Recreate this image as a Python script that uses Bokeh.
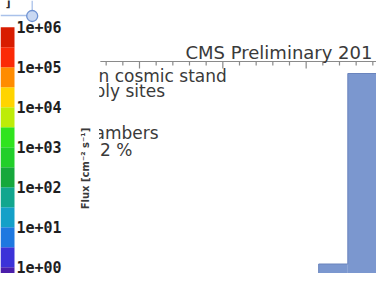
import numpy as np
from bokeh.plotting import figure
from bokeh.models import Range1d, LogScale
from bokeh.core.properties import value
from bokeh.embed import file_html
from bokeh.resources import INLINE

# ---------------- data ----------------
# colour scale (flux), block edges in log10 and their colours (bottom -> top)
cbar_edges_log10 = [-1.0, 0.0, 0.5, 1.0, 1.5, 2.0, 2.5, 3.0, 3.5, 4.0, 4.5, 5.0, 5.5, 6.0]
cbar_colors = ["#4b1eaa", "#3c32d8", "#1e78e0", "#14a0c8", "#12a68e", "#16a83c",
               "#22cf2a", "#30e41e", "#bdec08", "#ffd400", "#ff8c00", "#fb2a06", "#d81c00"]
cbar_tick_values = [1e0, 1e1, 1e2, 1e3, 1e4, 1e5, 1e6]
cbar_tick_labels = ["1e+00", "1e+01", "1e+02", "1e+03", "1e+04", "1e+05", "1e+06"]

# histogram (arbitrary units)
hist_edges = [3.15, 3.5, 3.85, 4.2]
hist_counts = [9.5, 73.0, 10.0]
hist_x_major = [1, 2, 3, 4]
hist_x_minor = [0.6, 0.8, 1.2, 1.4, 1.6, 1.8, 2.2, 2.4, 2.6, 2.8, 3.2, 3.4, 3.6, 3.8]
hist_y_ticks = [20, 30, 40, 50, 60, 70]
hist_frame_top = 77.0
hist_frame_left = 0.53
hist_frame_right = 4.024

title_text = "CMS Preliminary 201"
legend_lines = ["n cosmic stand", "ply sites", "ambers", "2 %"]
axis_title = "Flux [cm\u207b\u00b2 s\u207b\u00b9]"

# ---------------- layout (pixel space of the figure) ----------------
W, H = 376, 273


def up(y_px):
    return H - y_px


# flux scale: 1e0 at y 266.7 px, 40 px per decade
flux_start = 10 ** ((266.7 - H) / 40.0)
flux_end = 10 ** (266.7 / 40.0)
# histogram x: 1 at x 139 px, 83.33 px per unit
HX_PX = 83.33
hx_start = 1 + (0 - 139) / HX_PX
hx_end = 1 + (W - 139) / HX_PX
# histogram y: 0 at y 292 px, 3 px per unit
HY_PX = 3.0
hy_start = (292 - H) / HY_PX
hy_end = 292 / HY_PX

p = figure(width=W, height=H, output_backend="svg", toolbar_location=None,
           x_range=Range1d(0, W), y_range=Range1d(0, H),
           x_axis_location=None, y_axis_location=None, min_border=0,
           outline_line_color=None, background_fill_color="white",
           border_fill_color="white")
p.xgrid.visible = False
p.ygrid.visible = False
p.extra_y_ranges = {"flux": Range1d(flux_start, flux_end), "hy": Range1d(hy_start, hy_end)}
p.extra_y_scales = {"flux": LogScale()}
p.extra_x_ranges = {"hx": Range1d(hx_start, hx_end)}

# ---------------- colour bar ----------------
bot = [10 ** v for v in cbar_edges_log10[:-1]]
top = [10 ** v for v in cbar_edges_log10[1:]]
p.quad(left=0, right=14, bottom=bot, top=top, fill_color=cbar_colors,
       line_color=None, y_range_name="flux")
p.text(x=[16] * len(cbar_tick_values), y=cbar_tick_values, text=cbar_tick_labels,
       y_range_name="flux", text_font=value("DejaVu Sans Mono"), text_font_style="bold",
       text_font_size="15px", text_color="#1e1e1e", text_baseline="middle",
       text_align="left")

# ---------------- histogram ----------------
p.quad(left=hist_edges[:-1], right=hist_edges[1:], bottom=0, top=hist_counts,
       fill_color="#7b97cf", line_color=None, x_range_name="hx", y_range_name="hy")
sx = np.repeat(hist_edges, 2)
sy = np.concatenate([[0], np.repeat(hist_counts, 2), [0]])
p.line(sx, sy, line_color="#6a84bd", line_width=1, x_range_name="hx", y_range_name="hy")

# frame (top edge) with inward ticks, ROOT style
axis_col = "#8a8a8a"
p.segment(x0=[hist_frame_left], y0=[hist_frame_top], x1=[hist_frame_right],
          y1=[hist_frame_top], line_color=axis_col, line_width=1.2,
          x_range_name="hx", y_range_name="hy")
p.segment(x0=hist_x_major, y0=[hist_frame_top] * len(hist_x_major),
          x1=hist_x_major, y1=[hist_frame_top - 7 / HY_PX] * len(hist_x_major),
          line_color=axis_col, line_width=1.2, x_range_name="hx", y_range_name="hy")
p.segment(x0=hist_x_minor, y0=[hist_frame_top] * len(hist_x_minor),
          x1=hist_x_minor, y1=[hist_frame_top - 4 / HY_PX] * len(hist_x_minor),
          line_color=axis_col, line_width=1.2, x_range_name="hx", y_range_name="hy")
p.segment(x0=[hist_frame_right] * len(hist_y_ticks), y0=hist_y_ticks,
          x1=[hist_frame_right - 4 / HX_PX] * len(hist_y_ticks), y1=hist_y_ticks,
          line_color=axis_col, line_width=1.2, x_range_name="hx", y_range_name="hy")

# ---------------- texts ----------------
p.text(x=[185], y=[up(51.5)], text=[title_text], text_font=value("DejaVu Sans"),
       text_font_size="18px", text_color="#3a3a3a", text_baseline="middle")
p.text(x=[98, 94, 94, 99.5], y=[up(75.5), up(90), up(132), up(149)], text=legend_lines,
       text_font=value("DejaVu Sans"), text_font_size="17px", text_color="#3a3a3a",
       text_baseline="middle")
# clipping edge of the slide text box
p.quad(left=[66], right=[98.5], bottom=[up(165)], top=[up(63)], fill_color="white",
       line_color=None)
p.text(x=[85], y=[up(168)], text=[axis_title], angle=np.pi / 2,
       text_font=value("DejaVu Sans"), text_font_style="bold", text_font_size="10px",
       text_color="#3a3a3a", text_align="center", text_baseline="middle")

# ---------------- slide selection handle ----------------
p.text(x=[4], y=[up(2)], text=["]"], text_font=value("DejaVu Sans Mono"),
       text_font_style="bold", text_font_size="13px", text_color="#2a2a2a",
       text_baseline="middle")
p.segment(x0=[31.7, 0], y0=[up(0), up(15)], x1=[31.7, 26.5], y1=[up(11), up(15)],
          line_color="#a9c1ea", line_width=1.3)
p.scatter(x=[31.7], y=[up(15.5)], size=11, marker="circle", fill_color="#c9d8f2",
          line_color="#6f92d2", line_width=1.3)

open("out.html", "w").write(file_html(p, INLINE))
